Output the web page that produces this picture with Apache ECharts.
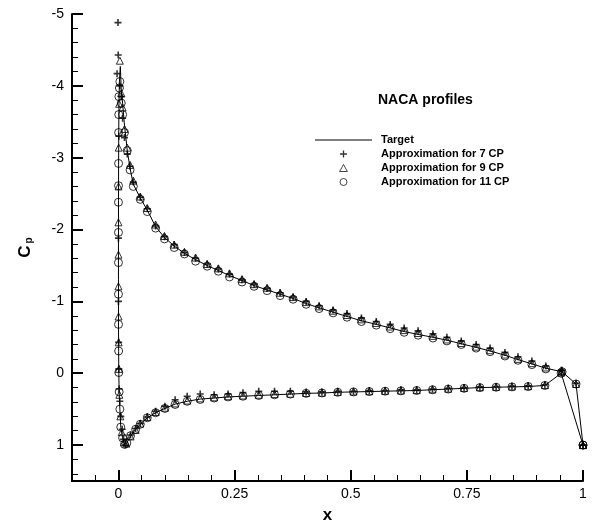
<!DOCTYPE html>
<html>
<head>
<meta charset="utf-8">
<script src="https://cdn.jsdelivr.net/npm/echarts@6/dist/echarts.min.js"></script>
<style>
html, body { margin: 0; padding: 0; background: #fff; }
#chart { width: 592px; height: 522px; }
</style>
</head>
<body>
<div id="chart"></div>
<script>
// Pressure coefficient along a NACA section: target distribution and
// three approximations with 7, 9 and 11 control points.

// Upper surface, leading edge -> trailing edge
const xUpper = [0.006, 0.009, 0.013, 0.019, 0.025, 0.032, 0.047, 0.062, 0.08, 0.099,
  0.12, 0.142, 0.166, 0.191, 0.215, 0.239, 0.266, 0.292, 0.32, 0.348,
  0.376, 0.404, 0.432, 0.462, 0.492, 0.523, 0.555, 0.585, 0.615, 0.645,
  0.677, 0.707, 0.738, 0.77, 0.8, 0.832, 0.86, 0.89, 0.92, 0.955, 0.985, 1.0];
const cpUpperTarget = [-3.95, -3.75, -3.45, -3.1, -2.85, -2.63, -2.44, -2.27, -2.04, -1.89,
  -1.77, -1.67, -1.58, -1.5, -1.43, -1.36, -1.29, -1.22, -1.16, -1.1,
  -1.04, -0.97, -0.91, -0.85, -0.79, -0.73, -0.68, -0.63, -0.58, -0.54,
  -0.5, -0.46, -0.41, -0.36, -0.31, -0.25, -0.19, -0.13, -0.07, -0.02, 0.15, 1.0];
const cpUpper7 = [-3.85, -3.55, -3.28, -3.05, -2.88, -2.66, -2.45, -2.29, -2.05, -1.9,
  -1.79, -1.68, -1.6, -1.52, -1.45, -1.38, -1.3, -1.24, -1.18, -1.12,
  -1.06, -1.0, -0.94, -0.88, -0.83, -0.77, -0.72, -0.68, -0.63, -0.59,
  -0.55, -0.5, -0.45, -0.4, -0.35, -0.29, -0.23, -0.17, -0.1, -0.04, 0.14, 1.0];
const cpUpper9 = [-3.9, -3.7, -3.4, -3.14, -2.9, -2.68, -2.46, -2.3, -2.07, -1.91,
  -1.79, -1.69, -1.61, -1.52, -1.46, -1.39, -1.31, -1.24, -1.19, -1.12,
  -1.06, -0.99, -0.93, -0.87, -0.81, -0.75, -0.7, -0.65, -0.6, -0.56,
  -0.52, -0.47, -0.42, -0.37, -0.32, -0.26, -0.2, -0.14, -0.08, -0.03, 0.15, 1.0];
const cpUpper11 = [-3.76, -3.6, -3.35, -3.1, -2.83, -2.6, -2.42, -2.25, -2.02, -1.87,
  -1.75, -1.66, -1.56, -1.49, -1.42, -1.34, -1.27, -1.21, -1.15, -1.08,
  -1.03, -0.96, -0.9, -0.84, -0.78, -0.72, -0.67, -0.62, -0.57, -0.53,
  -0.49, -0.45, -0.4, -0.35, -0.3, -0.24, -0.18, -0.12, -0.06, -0.02, 0.15, 1.0];

// Nose region (suction peak down to the stagnation point)
const xNoseTarget = [0.004, 0.002, 0.001, 0.0006, 0.0003, 0.0001, 0, 0, 0.0001, 0.0004,
  0.0008, 0.0015, 0.003, 0.005, 0.009, 0.013, 0.018];
const cpNoseTarget = [-4.27, -4.05, -3.7, -3.3, -2.9, -2.4, -1.9, -1.3, -0.7, -0.3,
  0.0, 0.27, 0.5, 0.75, 0.9, 0.99, 0.97];
const xNose7 = [-0.001, -0.0005, -0.003, 0.003, 0.0008, 0, 0, 0.0004, 0.0008, 0.0015,
  0.003, 0.005, 0.008, 0.011, 0.015];
const cpNose7 = [-4.88, -4.43, -4.17, -4.0, -3.3, -1.88, -1.0, -0.43, -0.06, 0.22,
  0.39, 0.6, 0.78, 0.92, 1.0];
const xNose9 = [0.003, 0.0015, 0.0005, 0.0002, 0, 0, 0, 0.0002, 0.0005, 0.001,
  0.002, 0.004, 0.007, 0.012, 0.017];
const cpNose9 = [-4.35, -3.75, -3.14, -2.6, -2.1, -1.65, -1.21, -0.79, -0.43, -0.06,
  0.3, 0.6, 0.82, 0.96, 0.98];
const xNose11 = [0.003, 0.002, 0.001, 0.0006, 0.0004, 0.0002, 0.0001, 0, 0, 0,
  0, 0.0001, 0.0004, 0.0008, 0.0015, 0.003, 0.005, 0.009, 0.013, 0.018];
const cpNose11 = [-4.06, -3.97, -3.85, -3.6, -3.35, -2.92, -2.61, -2.38, -1.96, -1.54,
  -1.1, -0.68, -0.31, -0.01, 0.26, 0.5, 0.75, 0.9, 0.99, 0.97];

// Lower surface, leading edge -> trailing edge
const xLower = [0.026, 0.037, 0.047, 0.062, 0.08, 0.1, 0.122, 0.148, 0.176, 0.206,
  0.236, 0.268, 0.302, 0.336, 0.37, 0.404, 0.438, 0.472, 0.506, 0.54,
  0.574, 0.608, 0.642, 0.676, 0.71, 0.744, 0.778, 0.813, 0.847, 0.882,
  0.918, 0.953, 1.0];
const cpLowerTarget = [0.875, 0.78, 0.71, 0.62, 0.55, 0.49, 0.43, 0.39, 0.36, 0.345,
  0.33, 0.32, 0.31, 0.3, 0.29, 0.28, 0.275, 0.265, 0.26, 0.255,
  0.25, 0.245, 0.24, 0.23, 0.22, 0.21, 0.2, 0.195, 0.19, 0.185,
  0.17, 0.0, 1.0];
const cpLower7 = [0.86, 0.77, 0.7, 0.61, 0.53, 0.46, 0.37, 0.32, 0.29, 0.3,
  0.29, 0.27, 0.25, 0.25, 0.25, 0.26, 0.26, 0.25, 0.25, 0.24,
  0.24, 0.23, 0.23, 0.22, 0.21, 0.2, 0.19, 0.185, 0.18, 0.175,
  0.16, -0.04, 1.0];
const cpLower9 = [0.88, 0.79, 0.7, 0.61, 0.54, 0.48, 0.42, 0.38, 0.35, 0.335,
  0.32, 0.31, 0.3, 0.29, 0.285, 0.275, 0.27, 0.26, 0.255, 0.25,
  0.245, 0.24, 0.235, 0.225, 0.215, 0.205, 0.195, 0.19, 0.185, 0.18,
  0.165, -0.01, 1.0];
const cpLower11 = [0.87, 0.78, 0.71, 0.62, 0.55, 0.49, 0.435, 0.39, 0.365, 0.345,
  0.33, 0.32, 0.31, 0.3, 0.29, 0.28, 0.275, 0.265, 0.26, 0.255,
  0.25, 0.245, 0.24, 0.23, 0.22, 0.21, 0.2, 0.195, 0.19, 0.185,
  0.17, 0.0, 1.0];

// Axis ticks
const xMajorTicks = [0, 0.25, 0.5, 0.75, 1];
const yMajorTicks = [-5, -4, -3, -2, -1, 0, 1];

const seriesNames = ['Target', 'Approximation for 7 CP', 'Approximation for 9 CP', 'Approximation for 11 CP'];

const FONT = '"Liberation Sans", Arial, Helvetica, sans-serif';
const PLUS = 'path://M5,0L5,10M0,5L10,5';
const TRIANGLE = 'path://M5,0L10,9L0,9Z';

function pairs(xs, ys) {
  return xs.map(function (x, i) { return [x, ys[i]]; });
}

// Closed contour: upper surface from the trailing edge forward, round the nose, lower surface back.
const targetPath = pairs(xUpper, cpUpperTarget).reverse()
  .concat(pairs(xNoseTarget, cpNoseTarget))
  .concat(pairs(xLower, cpLowerTarget));

const data7 = pairs(xUpper, cpUpper7).concat(pairs(xNose7, cpNose7), pairs(xLower, cpLower7));
const data9 = pairs(xUpper, cpUpper9).concat(pairs(xNose9, cpNose9), pairs(xLower, cpLower9));
const data11 = pairs(xUpper, cpUpper11).concat(pairs(xNose11, cpNose11), pairs(xLower, cpLower11));

const hollow = { color: 'rgba(0,0,0,0)', borderColor: '#000', borderWidth: 1 };
const legendHollow = { color: 'rgba(0,0,0,0)', borderColor: '#000', borderWidth: 0.9 };

const chart = echarts.init(document.getElementById('chart'), null, { renderer: 'canvas' });

chart.setOption({
  animation: false,
  backgroundColor: '#fff',
  textStyle: { fontFamily: FONT },
  title: {
    text: 'NACA profiles',
    left: 378, top: 93, padding: 0,
    textStyle: { fontSize: 14, fontWeight: 'bold', color: '#000', fontFamily: FONT }
  },
  legend: {
    orient: 'vertical',
    left: 315, top: 133, padding: 0,
    itemWidth: 57, itemHeight: 7, itemGap: 0,
    selectedMode: false,
    data: [
      { name: seriesNames[0], icon: 'path://M0,0L57,0L57,1L0,1Z', itemStyle: { color: '#000', borderWidth: 0 } },
      { name: seriesNames[1], icon: PLUS, itemStyle: { color: 'rgba(0,0,0,0)', borderColor: '#000', borderWidth: 1.3 } },
      { name: seriesNames[2], icon: TRIANGLE, itemStyle: legendHollow },
      { name: seriesNames[3], icon: 'circle', itemStyle: legendHollow }
    ],
    textStyle: { fontSize: 11, fontWeight: 'bold', color: '#000', fontFamily: FONT, lineHeight: 14, padding: [0, 0, 0, 4] }
  },
  grid: { left: 72, right: 9, top: 14, bottom: 41, containLabel: false, outerBoundsMode: 'none' },
  xAxis: [
    {
      type: 'value', min: -0.1, max: 1, position: 'bottom',
      name: 'x', nameLocation: 'middle', nameGap: 26,
      nameTextStyle: { fontSize: 17, fontWeight: 'bold', color: '#000', fontFamily: FONT },
      axisLine: { show: true, onZero: false, lineStyle: { color: '#000', width: 2 } },
      axisTick: { show: true, inside: true, length: 11, customValues: xMajorTicks, lineStyle: { color: '#000', width: 2 } },
      axisLabel: { customValues: xMajorTicks, fontSize: 14, color: '#000', fontFamily: FONT, margin: 6 },
      splitLine: { show: false }
    },
    {
      type: 'value', min: -0.1, max: 1, interval: 0.05, position: 'bottom',
      axisLine: { show: false, onZero: false },
      axisTick: { show: true, inside: true, length: 6, lineStyle: { color: '#000', width: 1 } },
      axisLabel: { show: false },
      splitLine: { show: false }
    }
  ],
  yAxis: [
    {
      type: 'value', inverse: true, min: -5, max: 1.5, interval: 1, position: 'left',
      name: '{c|C}{p|p}', nameLocation: 'middle', nameRotate: 90, nameGap: 38,
      nameTextStyle: {
        color: '#000', fontFamily: FONT,
        rich: {
          c: { fontSize: 17, fontWeight: 'bold', color: '#000', fontFamily: FONT, verticalAlign: 'bottom' },
          p: { fontSize: 10, fontWeight: 'bold', color: '#000', fontFamily: FONT, verticalAlign: 'bottom', padding: [0, 0, 0, 2] }
        }
      },
      axisLine: { show: true, onZero: false, lineStyle: { color: '#000', width: 2 } },
      axisTick: { show: true, inside: true, length: 11, customValues: yMajorTicks, lineStyle: { color: '#000', width: 2 } },
      axisLabel: { customValues: yMajorTicks, fontSize: 14, color: '#000', fontFamily: FONT, margin: 8 },
      splitLine: { show: false }
    },
    {
      type: 'value', inverse: true, min: -5, max: 1.5, interval: 0.2, position: 'left',
      axisLine: { show: false, onZero: false },
      axisTick: { show: true, inside: true, length: 6, lineStyle: { color: '#000', width: 1 } },
      axisLabel: { show: false },
      splitLine: { show: false }
    }
  ],
  series: [
    {
      name: seriesNames[0], type: 'line', xAxisIndex: 0, yAxisIndex: 0,
      data: targetPath, symbol: 'none', smooth: false,
      lineStyle: { color: '#000', width: 1 }, itemStyle: { color: '#000' }, z: 2
    },
    {
      name: seriesNames[1], type: 'scatter', xAxisIndex: 0, yAxisIndex: 0,
      data: data7, symbol: PLUS, symbolSize: 7,
      itemStyle: { color: 'rgba(0,0,0,0)', borderColor: '#000', borderWidth: 1.6 }, z: 3
    },
    {
      name: seriesNames[2], type: 'scatter', xAxisIndex: 0, yAxisIndex: 0,
      data: data9, symbol: TRIANGLE, symbolSize: 7,
      itemStyle: hollow, z: 3
    },
    {
      name: seriesNames[3], type: 'scatter', xAxisIndex: 0, yAxisIndex: 0,
      data: data11, symbol: 'circle', symbolSize: 8,
      itemStyle: hollow, z: 3
    }
  ]
});
</script>
</body>
</html>
